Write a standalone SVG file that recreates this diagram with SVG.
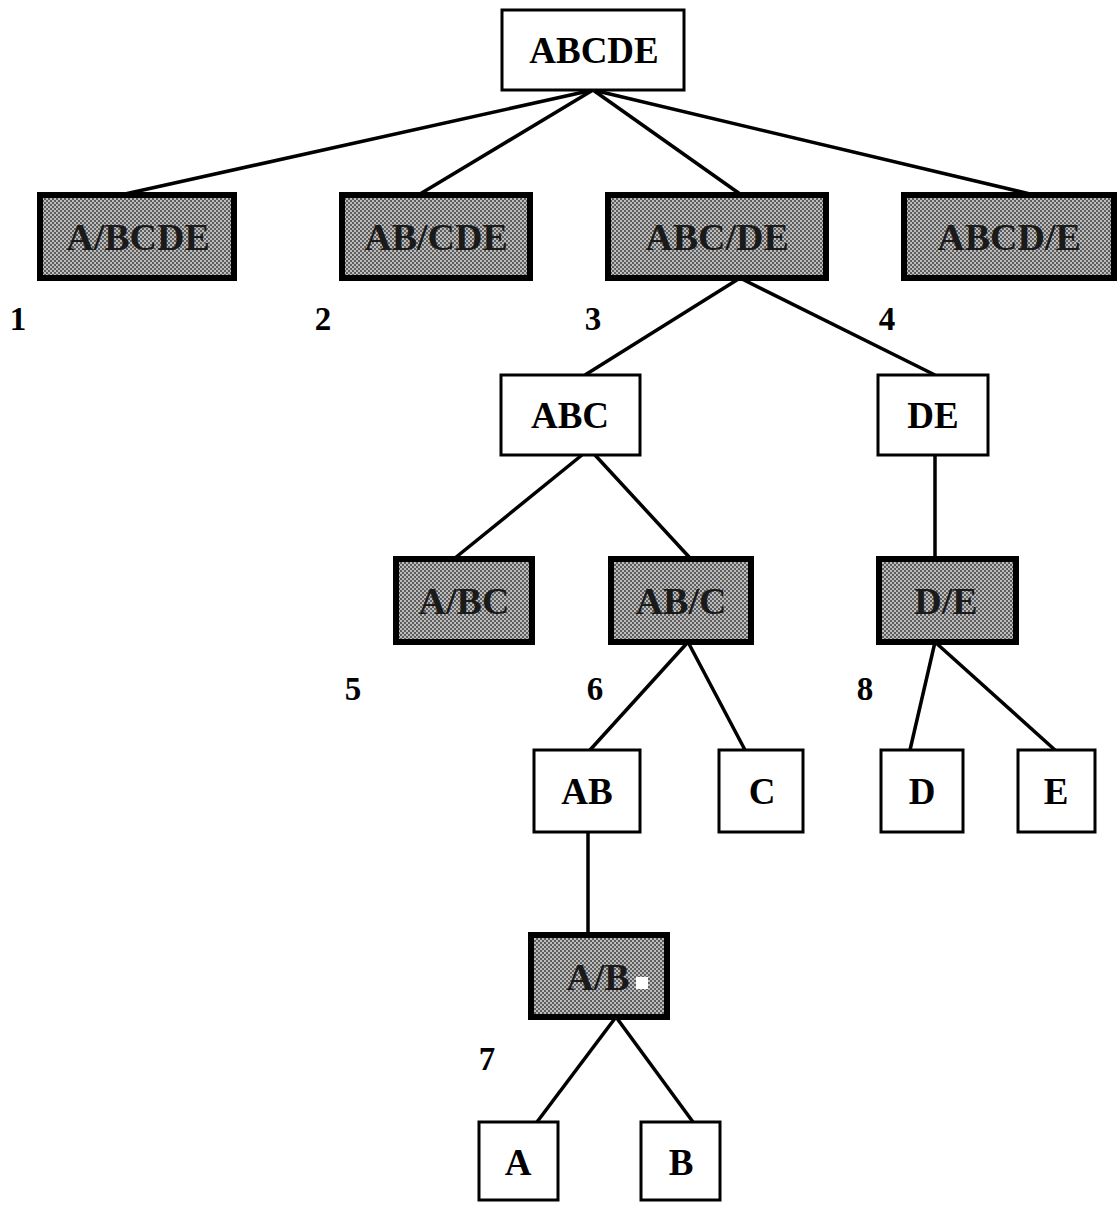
<svg xmlns="http://www.w3.org/2000/svg" width="1120" height="1205" viewBox="0 0 1120 1205">
<style>
.w{fill:#fff;stroke:#000;stroke-width:3}
.s{fill:url(#ht);stroke:#000;stroke-width:6}
.t{font-family:"Liberation Serif","Times New Roman",serif;font-weight:bold;font-size:37px;text-anchor:middle;fill:#000}
.st{font-family:"Liberation Serif","Times New Roman",serif;font-weight:bold;font-size:38px;text-anchor:middle;fill:#1a1a1a}
.n{font-family:"Liberation Serif","Times New Roman",serif;font-weight:bold;font-size:33px;text-anchor:middle;fill:#000}
.c{stroke:#000;stroke-width:3.5;fill:none}
</style>
<defs>
<pattern id="ht" width="4" height="4" patternUnits="userSpaceOnUse">
<rect width="4" height="4" fill="#5e5e5e"/>
<rect width="2" height="2" fill="#bcbcbc"/>
<rect x="2" y="2" width="2" height="2" fill="#bcbcbc"/>
</pattern>
</defs>
<rect width="1120" height="1205" fill="#fff"/>
<g id="connectors">
<line class="c" x1="593" y1="90" x2="125" y2="194"/>
<line class="c" x1="593" y1="90" x2="420" y2="194"/>
<line class="c" x1="593" y1="90" x2="740" y2="194"/>
<line class="c" x1="593" y1="90" x2="1030" y2="194"/>
<line class="c" x1="740" y1="278" x2="585" y2="375"/>
<line class="c" x1="740" y1="278" x2="935" y2="375"/>
<line class="c" x1="582" y1="455" x2="455" y2="558"/>
<line class="c" x1="595" y1="455" x2="690" y2="558"/>
<line class="c" x1="935" y1="455" x2="935" y2="558"/>
<line class="c" x1="688" y1="642" x2="590" y2="750"/>
<line class="c" x1="688" y1="642" x2="745" y2="750"/>
<line class="c" x1="935" y1="642" x2="910" y2="750"/>
<line class="c" x1="935" y1="642" x2="1055" y2="750"/>
<line class="c" x1="588" y1="832" x2="588" y2="934"/>
<line class="c" x1="616" y1="1017" x2="537" y2="1122"/>
<line class="c" x1="616" y1="1017" x2="693" y2="1122"/>
</g>
<g id="n-ABCDE"><rect class="w" x="502" y="10" width="182" height="80"/><text class="t" x="594" y="63">ABCDE</text></g>
<g id="n-A-BCDE"><rect class="s" x="40" y="195" width="194" height="83"/><text class="st" x="138" y="250">A/BCDE</text></g>
<g id="n-AB-CDE"><rect class="s" x="342" y="195" width="188" height="83"/><text class="st" x="436" y="250">AB/CDE</text></g>
<g id="n-ABC-DE"><rect class="s" x="608" y="195" width="218" height="83"/><text class="st" x="717" y="250">ABC/DE</text></g>
<g id="n-ABCD-E"><rect class="s" x="904" y="195" width="210" height="83"/><text class="st" x="1009" y="250">ABCD/E</text></g>
<g id="n-ABC"><rect class="w" x="501" y="375" width="139" height="80"/><text class="t" x="570" y="428">ABC</text></g>
<g id="n-DE"><rect class="w" x="878" y="375" width="110" height="80"/><text class="t" x="933" y="428">DE</text></g>
<g id="n-A-BC"><rect class="s" x="396" y="559" width="136" height="83"/><text class="st" x="464" y="614">A/BC</text></g>
<g id="n-AB-C"><rect class="s" x="611" y="559" width="140" height="83"/><text class="st" x="681" y="614">AB/C</text></g>
<g id="n-D-E"><rect class="s" x="879" y="559" width="137" height="83"/><text class="st" x="946" y="614">D/E</text></g>
<g id="n-AB"><rect class="w" x="534" y="750" width="106" height="82"/><text class="t" x="587" y="804">AB</text></g>
<g id="n-C"><rect class="w" x="719" y="750" width="84" height="82"/><text class="t" x="762" y="804">C</text></g>
<g id="n-D"><rect class="w" x="881" y="750" width="82" height="82"/><text class="t" x="922" y="804">D</text></g>
<g id="n-E"><rect class="w" x="1018" y="750" width="77" height="82"/><text class="t" x="1056" y="804">E</text></g>
<g id="n-A-B"><rect class="s" x="531" y="935" width="136" height="82"/><text class="st" x="598" y="990">A/B</text><rect x="636" y="977" width="12" height="12" fill="#fff"/></g>
<g id="n-A"><rect class="w" x="479" y="1122" width="79" height="78"/><text class="t" x="518" y="1175">A</text></g>
<g id="n-B"><rect class="w" x="641" y="1122" width="79" height="78"/><text class="t" x="681" y="1175">B</text></g>
<g id="labels">
<text class="n" x="18" y="330">1</text>
<text class="n" x="323" y="330">2</text>
<text class="n" x="593" y="330">3</text>
<text class="n" x="887" y="330">4</text>
<text class="n" x="353" y="700">5</text>
<text class="n" x="595" y="700">6</text>
<text class="n" x="865" y="700">8</text>
<text class="n" x="487" y="1070">7</text>
</g>
</svg>
